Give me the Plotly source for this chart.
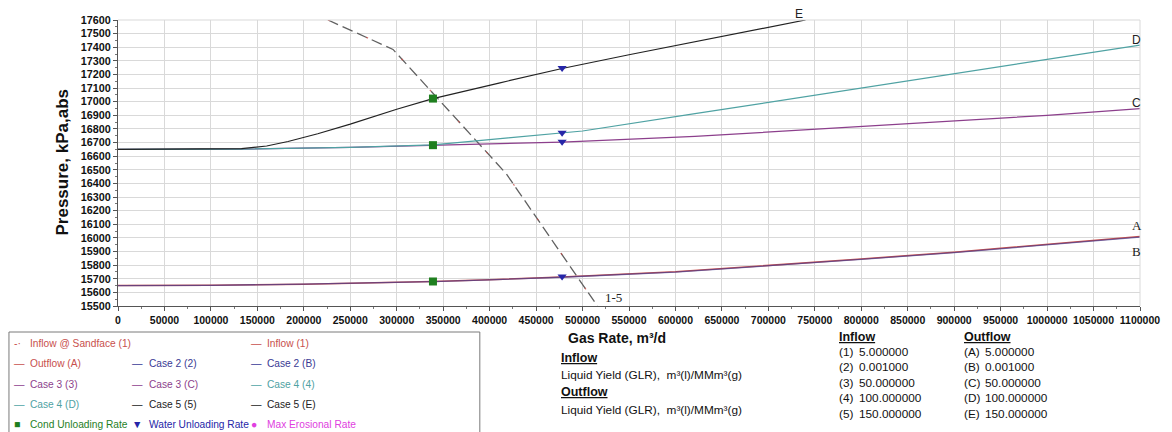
import plotly.graph_objects as go

# ---- data -------------------------------------------------------------
# Inflow (IPR) curve, shared by inflow cases 1-5
inflow_rate = [226000, 296000, 360000, 418000, 470000, 516000]
inflow_p = [17600, 17384, 16905, 16470, 15955, 15500]

# Outflow (TPR) curves
rate_a = [0, 100000, 200000, 300000, 339000, 400000, 478000, 600000, 700000, 800000, 900000, 1000000, 1100000]
p_a = [15650, 15652, 15660, 15672, 15680, 15693, 15713, 15751, 15796, 15845, 15895, 15954, 16010]
rate_b = [0, 100000, 200000, 300000, 339000, 400000, 478000, 600000, 700000, 800000, 900000, 1000000, 1100000]
p_b = [15650, 15652, 15660, 15671, 15679, 15692, 15711, 15749, 15793, 15842, 15892, 15950, 16006]
rate_c = [0, 130000, 250000, 339000, 478000, 621000, 800000, 1000000, 1100000]
p_c = [16650, 16652, 16665, 16680, 16704, 16745, 16818, 16900, 16949]
rate_d = [0, 130000, 250000, 339000, 420000, 478000, 500000, 621000, 800000, 1000000, 1100000]
p_d = [16650, 16652, 16665, 16683, 16735, 16770, 16785, 16912, 17100, 17310, 17416]
rate_e = [0, 100000, 133000, 160000, 183000, 215000, 250000, 300000, 339000, 410000, 478000, 550000, 621000, 700000, 740000]
p_e = [16650, 16651, 16655, 16675, 16708, 16765, 16835, 16945, 17023, 17137, 17244, 17345, 17440, 17545, 17600]

# Unloading-rate points
cond_rate = [339000, 339000, 339000]
cond_p = [17023, 16681, 15680]
water_rate = [478000, 478000, 478000, 478000]
water_p = [17247, 16773, 16706, 15716]

# Axis ticks
x_ticks = list(range(0, 1100001, 50000))
y_ticks = list(range(15500, 17601, 100))

# Sensitivity tables
case_ids_in = ["(1)", "(2)", "(3)", "(4)", "(5)"]
case_ids_out = ["(A)", "(B)", "(C)", "(D)", "(E)"]
liquid_yield = ["5.000000", "0.001000", "50.000000", "100.000000", "150.000000"]

# ---- styling ----------------------------------------------------------
RED = "#c8504d"
NAVY = "#3a3a94"
PURPLE = "#8c3f8c"
TEAL = "#4fa2a3"
BLACK = "#222222"
GREEN = "#1f7f1f"
BLUE = "#2626a8"
MAGENTA = "#e040e0"
FONT = "Liberation Sans, Arial, sans-serif"
SERIF = "Liberation Serif, Times New Roman, serif"
NB = "\u00a0"

# plot-area pixel frame, used to place free text around it
PL, PR, PT, PB = 118, 1149, 20, 306


def fx(px):
    return (px - PL) / (PR - PL)


def fy(py):
    return (PB - py) / (PB - PT)


fig = go.Figure()

# inflow curves (all cases coincide)
fig.add_trace(go.Scatter(x=inflow_rate, y=inflow_p, mode="lines",
                         line=dict(color="#606060", width=1.3, dash="11px,5px"),
                         showlegend=False, hoverinfo="skip"))
fig.add_trace(go.Scatter(x=inflow_rate, y=inflow_p, mode="lines",
                         line=dict(color=RED, width=1.2, dash="2px,40px"),
                         opacity=0.8, showlegend=False, hoverinfo="skip"))

# outflow curves
fig.add_trace(go.Scatter(x=rate_a, y=p_a, mode="lines", line=dict(color=RED, width=1.6),
                         showlegend=False))
fig.add_trace(go.Scatter(x=rate_b, y=p_b, mode="lines", line=dict(color=NAVY, width=1.3),
                         opacity=0.65, showlegend=False))
fig.add_trace(go.Scatter(x=rate_c, y=p_c, mode="lines", line=dict(color=PURPLE, width=1.2),
                         showlegend=False))
fig.add_trace(go.Scatter(x=rate_d, y=p_d, mode="lines", line=dict(color=TEAL, width=1.2),
                         showlegend=False))
fig.add_trace(go.Scatter(x=rate_e, y=p_e, mode="lines", line=dict(color=BLACK, width=1.2),
                         showlegend=False))

# unloading markers
fig.add_trace(go.Scatter(x=cond_rate, y=cond_p, mode="markers",
                         marker=dict(symbol="square", size=8, color=GREEN),
                         showlegend=False))
fig.add_trace(go.Scatter(x=water_rate, y=water_p, mode="markers",
                         marker=dict(symbol="triangle-down", size=8, color=BLUE),
                         showlegend=False))

annotations = []


def label(px, py, text, size=12, color="#111", family=FONT, xanchor="left"):
    annotations.append(dict(x=fx(px), y=fy(py), xref="paper", yref="paper", text=text,
                            showarrow=False, xanchor=xanchor, yanchor="middle",
                            font=dict(family=family, size=size, color=color)))


# curve labels
label(799, 14, "E", 12, "#222")
label(1139, 40, "D", 12, "#222")
label(1139, 103, "C", 12, "#222")
label(1139, 225, "A", 13, "#222", SERIF)
label(1139, 251, "B", 13, "#222", SERIF)
label(607, 297, "1-5", 13, "#222", SERIF)

# y axis title
annotations.append(dict(x=fx(62), y=fy(162), xref="paper", yref="paper",
                        text="<b>Pressure, kPa,abs</b>", textangle=-90, showarrow=False,
                        xanchor="center", yanchor="middle",
                        font=dict(family=FONT, size=17, color="#111")))

# x axis title and sensitivity notes
label(570, 338, "<b>Gas Rate, m³/d</b>", 14)
label(563, 358, "<b><u>Inflow</u></b>", 12.5)
label(563, 375, f"Liquid Yield (GLR),{NB}{NB}m³(l)/MMm³(g)", 11.8)
label(563, 392, "<b><u>Outflow</u></b>", 12.5)
label(563, 410, f"Liquid Yield (GLR),{NB}{NB}m³(l)/MMm³(g)", 11.8)

label(843, 337, "<b><u>Inflow</u></b>", 12.5)
label(969, 337, "<b><u>Outflow</u></b>", 12.5)
for i in range(len(liquid_yield)):
    yy = 352 + i * 15.4
    label(843, yy, case_ids_in[i], 11.8)
    label(864, yy, liquid_yield[i], 11.8)
    label(969, yy, case_ids_out[i], 11.8)
    label(991, yy, liquid_yield[i], 11.8)

# legend box: (symbol, label, colour) per cell
legend_rows = [
    [("-·", "Inflow @ Sandface (1)", RED), None, ("—", "Inflow (1)", RED)],
    [("—", "Outflow (A)", RED), ("—", "Case 2 (2)", NAVY), ("—", "Case 2 (B)", NAVY)],
    [("—", "Case 3 (3)", PURPLE), ("—", "Case 3 (C)", PURPLE), ("—", "Case 4 (4)", TEAL)],
    [("—", "Case 4 (D)", TEAL), ("—", "Case 5 (5)", BLACK), ("—", "Case 5 (E)", BLACK)],
    [("■", "Cond Unloading Rate", GREEN), ("▼", "Water Unloading Rate", BLUE), ("●", "Max Erosional Rate", MAGENTA)],
]
sym_x = [11, 130, 250]
txt_x = [27, 147, 266]
row_y = [343, 363, 384, 404, 424]
for r, row in enumerate(legend_rows):
    for c, item in enumerate(row):
        if item is None:
            continue
        sym, txt, col = item
        label(sym_x[c], row_y[r], sym, 10.5, col)
        label(txt_x[c], row_y[r], txt, 10.2, col)

shapes = [dict(type="rect", xref="paper", yref="paper",
               x0=fx(8), x1=fx(483), y0=fy(450), y1=fy(332),
               line=dict(color="#7a7a7a", width=1), fillcolor="rgba(0,0,0,0)", layer="above")]

fig.update_layout(
    width=1172, height=432,
    margin=dict(l=PL, r=1172 - PR, t=PT, b=432 - PB),
    paper_bgcolor="white", plot_bgcolor="white",
    annotations=annotations, shapes=shapes,
    showlegend=False,
    xaxis=dict(range=[0, 1100000], tickvals=x_ticks, ticktext=[str(v) for v in x_ticks],
               showgrid=True, gridcolor="#d9d9d9", gridwidth=1,
               showline=True, linecolor="#555", linewidth=1, mirror=False,
               ticks="outside", ticklen=4, tickcolor="#555",
               minor=dict(dtick=25000, ticks="outside", ticklen=2, tickcolor="#777", showgrid=False),
               tickfont=dict(family=FONT, size=10.5, color="#111", weight="bold"),
               zeroline=False),
    yaxis=dict(range=[15500, 17600], tickvals=y_ticks, ticktext=[str(v) for v in y_ticks],
               showgrid=True, gridcolor="#d9d9d9", gridwidth=1,
               showline=True, linecolor="#555", linewidth=1,
               ticks="outside", ticklen=4, tickcolor="#555",
               minor=dict(dtick=50, ticks="outside", ticklen=2, tickcolor="#777", showgrid=False),
               tickfont=dict(family=FONT, size=10.8, color="#111", weight="bold"),
               zeroline=False),
)

# light frame on the open sides of the plot area
fig.add_shape(type="line", xref="paper", yref="paper", x0=1, x1=1, y0=0, y1=1,
              line=dict(color="#d9d9d9", width=1))
fig.add_shape(type="line", xref="paper", yref="paper", x0=0, x1=1, y0=1, y1=1,
              line=dict(color="#d9d9d9", width=1))

fig.write_html("out.html")
